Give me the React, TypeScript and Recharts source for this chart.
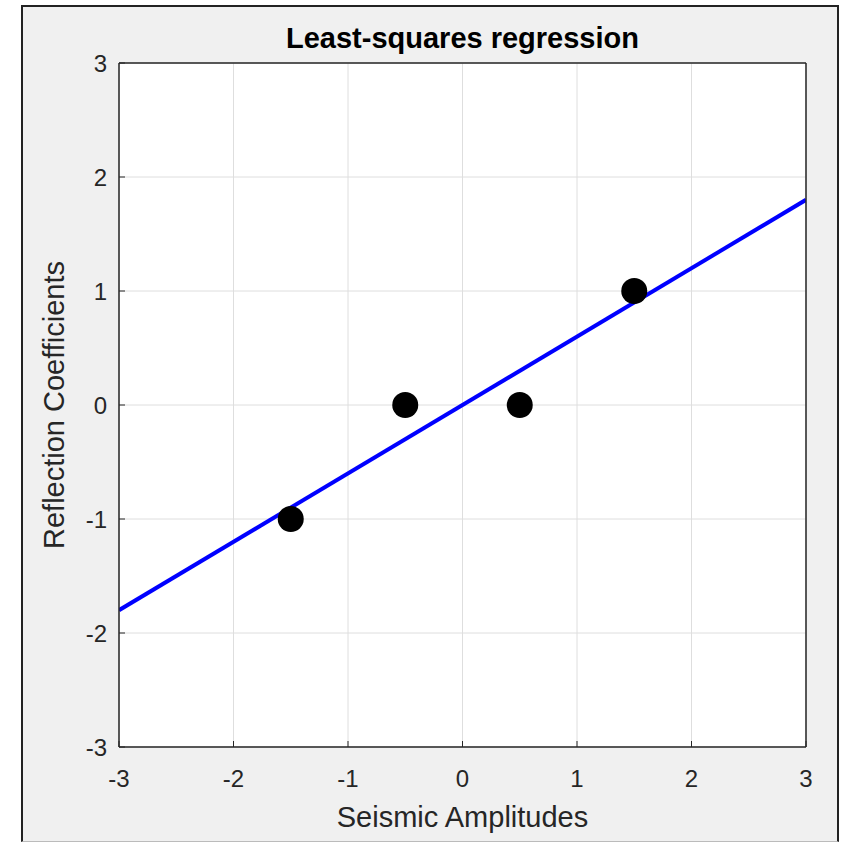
import { ComposedChart, Line, Scatter, XAxis, YAxis, CartesianGrid, Label } from 'recharts';

// axis ticks, same on both axes
const axisTicks = [-3, -2, -1, 0, 1, 2, 3];

// observed samples
const amplitudes = [-1.5, -0.5, 0.5, 1.5];
const reflections = [-1, 0, 0, 1];

// least-squares fit, end points
const fitX = [-3, 3];
const fitY = [-1.8, 1.8];

const samples = amplitudes.map((x, i) => ({ x, y: reflections[i] }));
const fit = fitX.map((x, i) => ({ x, y: fitY[i] }));

const FONT = '"Liberation Sans", Arial, Helvetica, sans-serif';
const AXIS = '#262626';
const TICK = 6;

// matlab style ticks: small marks pointing into the plot
const BottomTick = (p: any) => (
  <g>
    <line x1={p.x} x2={p.x} y1={p.y - 23} y2={p.y - 23 - TICK} stroke={AXIS} />
    <text x={p.x} y={p.y} dy="0.71em" textAnchor="middle" fill={AXIS} fontSize={24}>{p.payload.value}</text>
  </g>
);
const LeftTick = (p: any) => (
  <g>
    <line x1={p.x + 12} x2={p.x + 12 + TICK} y1={p.y} y2={p.y} stroke={AXIS} />
    <text x={p.x} y={p.y} dy="0.355em" textAnchor="end" fill={AXIS} fontSize={24}>{p.payload.value}</text>
  </g>
);
const TopTick = (p: any) => <line x1={p.x} x2={p.x} y1={p.y} y2={p.y + TICK} stroke={AXIS} />;
const RightTick = (p: any) => <line x1={p.x} x2={p.x - TICK} y1={p.y} y2={p.y} stroke={AXIS} />;

export default function App() {
  return (
    <div style={{ position: 'absolute', left: 0, top: 0, width: 848, height: 842, background: '#fff', overflow: 'hidden' }}>
      <div
        style={{
          position: 'absolute', left: 21, top: 5, width: 818, height: 837,
          boxSizing: 'border-box', background: '#f0f0f0',
          borderLeft: '2px solid #222', borderTop: '2px solid #222', borderRight: '2px solid #222',
          borderBottom: '1px solid #bbb',
        }}
      />
      <div style={{ position: 'absolute', left: 0, top: 0 }}>
        <ComposedChart
          width={848}
          height={842}
          margin={{ top: 62, right: 41, bottom: 45, left: 39 }}
          style={{ fontFamily: FONT }}
        >
          <CartesianGrid xAxisId="b" yAxisId="l" stroke="#dedede" fill="#fff" />
          <XAxis
            xAxisId="b"
            type="number"
            dataKey="x"
            domain={[-3, 3]}
            ticks={axisTicks}
            allowDataOverflow
            height={50}
            tickSize={0}
            tickMargin={23}
            axisLine={{ stroke: AXIS, strokeWidth: 1.5 }}
            tickLine={false}
            tick={BottomTick}
          >
            <Label value="Seismic Amplitudes" position="bottom" offset={9} style={{ fontSize: 29, fill: AXIS }} />
          </XAxis>
          <XAxis
            xAxisId="t"
            orientation="top"
            type="number"
            domain={[-3, 3]}
            ticks={axisTicks}
            height={1}
            tickSize={0}
            tickMargin={0}
            axisLine={{ stroke: AXIS, strokeWidth: 1.5 }}
            tickLine={false}
            tick={TopTick}
          >
            <Label value="Least-squares regression" position="top" offset={14} style={{ fontSize: 29, fontWeight: 700, fill: '#000' }} />
          </XAxis>
          <YAxis
            yAxisId="l"
            type="number"
            dataKey="y"
            domain={[-3, 3]}
            ticks={axisTicks}
            allowDataOverflow
            width={80}
            tickSize={0}
            tickMargin={12}
            axisLine={{ stroke: AXIS, strokeWidth: 1.5 }}
            tickLine={false}
            tick={LeftTick}
          >
            <Label
              value="Reflection Coefficients"
              angle={-90}
              position="insideLeft"
              offset={15}
              style={{ fontSize: 29, fill: AXIS, textAnchor: 'middle' }}
            />
          </YAxis>
          <YAxis
            yAxisId="r"
            orientation="right"
            type="number"
            domain={[-3, 3]}
            ticks={axisTicks}
            width={1}
            tickSize={0}
            tickMargin={0}
            axisLine={{ stroke: AXIS, strokeWidth: 1.5 }}
            tickLine={false}
            tick={RightTick}
          />
          <Line
            xAxisId="b"
            yAxisId="l"
            data={fit}
            dataKey="y"
            type="linear"
            stroke="#0000ff"
            strokeWidth={4}
            dot={false}
            activeDot={false}
            isAnimationActive={false}
          />
          <Scatter
            xAxisId="b"
            yAxisId="l"
            data={samples}
            dataKey="y"
            fill="#000"
            shape={(p: any) => <circle cx={p.cx} cy={p.cy} r={13} fill="#000" />}
            isAnimationActive={false}
          />
        </ComposedChart>
      </div>
    </div>
  );
}
